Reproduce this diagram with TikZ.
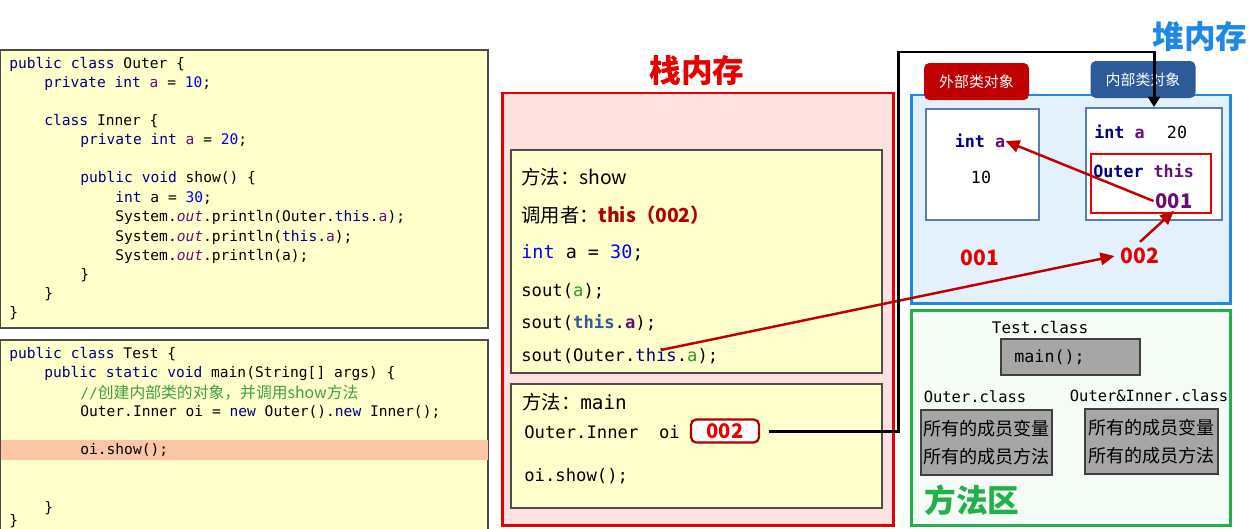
\documentclass[tikz,border=0pt]{standalone}
\usepackage{fontspec}
\setmainfont{Noto Sans CJK SC}
\setmonofont{DejaVu Sans Mono}
\usetikzlibrary{arrows.meta}

\definecolor{codebg}{HTML}{FFFFCC}
\definecolor{hlband}{HTML}{FAC6A6}
\definecolor{kwnavy}{HTML}{000080}
\definecolor{fldpurple}{HTML}{660E7A}
\definecolor{numblue}{HTML}{0000FF}
\definecolor{cmtgreen}{HTML}{3F9F3F}
\definecolor{stackbg}{HTML}{FFE1E1}
\definecolor{stackred}{HTML}{E60000}
\definecolor{darkred}{HTML}{B00000}
\definecolor{heapbg}{HTML}{E3F1FD}
\definecolor{heapblue}{HTML}{1E88E5}
\definecolor{objblue}{HTML}{5B7EB4}
\definecolor{tagred}{HTML}{C00000}
\definecolor{tagblue}{HTML}{2D5B9A}
\definecolor{arrowred}{HTML}{C00000}
\definecolor{addrred}{HTML}{E60000}
\definecolor{methgreen}{HTML}{22B04A}
\definecolor{methbg}{HTML}{F5FBF5}
\definecolor{boxgray}{HTML}{A6A6A6}
\definecolor{thisblue}{HTML}{2E5C9A}
\definecolor{localgreen}{HTML}{2E9A2E}

\newcommand\kw[1]{\textcolor{kwnavy}{#1}}
\newcommand\fd[1]{\textcolor{fldpurple}{#1}}
\newcommand\nm[1]{\textcolor{numblue}{#1}}
\newcommand\zh[1]{{\rmfamily #1}}

\begin{document}
\begin{tikzpicture}[x=0.02cm, y=-0.02cm,
    code/.style={anchor=west, inner sep=0pt, font=\ttfamily\fontsize{8.3}{10}\selectfont},
    stk/.style={anchor=west, inner sep=0pt, font=\fontsize{11}{13}\selectfont},
    stkmono/.style={anchor=west, inner sep=0pt, font=\ttfamily\fontsize{9.8}{12}\selectfont},
    title/.style={font=\bfseries\fontsize{18}{20}\selectfont},
    addr/.style={font=\bfseries\fontsize{12}{14}\selectfont, text=addrred},
    objbox/.style={draw=objblue, line width=1.1pt, fill=white},
    tag/.style={rounded corners=3pt, text=white, font=\fontsize{8.5}{10}\selectfont,
        minimum width=2.1cm, minimum height=0.74cm},
    heapmono/.style={font=\ttfamily\bfseries\fontsize{9.5}{11}\selectfont, inner sep=0pt},
    graybox/.style={draw=black!75, line width=0.8pt, fill=boxgray},
    redarrow/.style={draw=arrowred, line width=1.4pt, -{Triangle[length=8pt,width=7pt]}},
]
\useasboundingbox (0,0) rectangle (1250,528);

% Outer source
\draw[fill=codebg, draw=black!70, line width=0.8pt] (0.5,50) rectangle (488,328);
\node[code] (o1) at (9,64) {\kw{public class} Outer \{};
\node[code] (o2) at (44,83) {\kw{private int} \fd{a} = \nm{10};};
\node[code] (o3) at (44,121) {\kw{class} Inner \{};
\node[code] (o4) at (80,140) {\kw{private int} \fd{a} = \nm{20};};
\node[code] (o5) at (80,178) {\kw{public void} show() \{};
\node[code] (o6) at (115,198) {\kw{int} a = \nm{30};};
\node[code] (o7) at (115,217) {System.\fd{\itshape out}.println(Outer.\kw{this}.\fd{a});};
\node[code] (o8) at (115,237) {System.\fd{\itshape out}.println(\kw{this}.\fd{a});};
\node[code] (o9) at (115,256) {System.\fd{\itshape out}.println(a);};
\node[code] (o10) at (80,275) {\}};
\node[code] (o11) at (44,294) {\}};
\node[code] (o12) at (9,313) {\}};

% Test source
\draw[fill=codebg, draw=black!70, line width=0.8pt] (0.5,340) rectangle (488,560);
\fill[hlband] (1,440) rectangle (487.5,460);
\node[code] (t1) at (9,354) {\kw{public class} Test \{};
\node[code] (t2) at (44,373) {\kw{public static void} main(String[] args) \{};
\node[code] (t3) at (80,393) {\textcolor{cmtgreen}{//\zh{\fontsize{9}{10}\selectfont 创建内部类的对象，并调用show方法}}};
\node[code] (t4) at (80,412) {Outer.Inner oi = \kw{new} Outer().\kw{new} Inner();};
\node[code] (t5) at (80,450) {oi.show();};
\node[code] (t6) at (44,508) {\}};
\node[code] (t7) at (9,521) {\}};

% stack
\node[title, text=stackred] (stacktitle) at (697,70) {栈内存};
\draw[fill=stackbg, draw=stackred, line width=1.7pt] (502,93) rectangle (893,525);
\draw[fill=codebg, draw=black!70, line width=0.8pt] (511,150) rectangle (882,373);
\node[stk] (s1) at (521,177) {方法：show};
\node[stk] (s2) at (521,215) {调用者：\textcolor{darkred}{\bfseries this（002）}};
\node[stkmono, font=\ttfamily\fontsize{10.5}{12}\selectfont] (s3) at (521,253) {\textcolor{numblue}{int} a = \nm{30};};
\node[stkmono] (s4) at (521,291) {sout(\textcolor{localgreen}{a});};
\node[stkmono] (s5) at (521,323) {sout(\textcolor{thisblue}{\bfseries this}.\fd{\bfseries a});};
\node[stkmono] (s6) at (521,356) {sout(Outer.\kw{this}.\textcolor{localgreen}{a});};
\coordinate (thisref) at (661,350);

\draw[fill=codebg, draw=black!70, line width=0.8pt] (511,384) rectangle (882,508);
\node[stk] (m1) at (522,402) {方法：\texttt{main}};
\node[stkmono] (m2) at (524,432) {Outer.Inner~~oi};
\node[draw=darkred, line width=1.3pt, rounded corners=3pt, fill=white, text=stackred,
    font=\bfseries\fontsize{11.5}{13}\selectfont, minimum width=1.36cm, minimum height=0.46cm,
    inner sep=0pt] (oiref) at (725,431) {002};
\node[stkmono] (m3) at (524,476) {oi.show();};

% heap
\node[title, text=heapblue] (heaptitle) at (1200,36) {堆内存};
\draw[fill=heapbg, draw=heapblue, line width=1.7pt] (911,95) rectangle (1230,303);
\node[objbox, minimum width=2.26cm, minimum height=2.22cm] (outerobj) at (982.5,164.5) {};
\node[objbox, minimum width=2.72cm, minimum height=2.24cm] (innerobj) at (1154,164) {};
\node[tag, fill=tagred] (outertag) at (976.5,81.5) {外部类对象};
\node[tag, fill=tagblue] (innertag) at (1143,79.5) {内部类对象};

\node[heapmono] (outerfield) at (980,141) {\textcolor{kwnavy}{int} \fd{a}};
\node[heapmono, font=\ttfamily\fontsize{9.5}{11}\selectfont] (outerval) at (981,177) {10};
\node[heapmono, anchor=west] (innerfield) at (1094,132) {\textcolor{kwnavy}{int} \fd{a}};
\node[heapmono, font=\ttfamily\fontsize{9.5}{11}\selectfont] (innerval) at (1177,132) {20};
\node[draw=stackred, line width=1.1pt, minimum width=2.4cm, minimum height=1.18cm] (thisbox) at (1151,183.5) {};
\node[heapmono, anchor=west] (thisfield) at (1093,171) {\textcolor{kwnavy}{Outer} \fd{this}};
\node[font=\bfseries\fontsize{11.5}{14}\selectfont, text=fldpurple, inner sep=1pt] (ptr001) at (1174,201) {001};

\node[addr] (addrouter) at (980,258) {001};
\node[addr] (addrinner) at (1140,256) {002};

% reference arrows
\draw[redarrow] (ptr001.west) -- (outerfield.east);
\draw[redarrow] (addrinner.north) -- (ptr001.south);
\draw[redarrow] (thisref) -- (addrinner.west);
\draw[line width=1.7pt, -{Triangle[length=6pt,width=7pt]}, shorten <=0.18cm]
    (oiref.east) -| (898,52) -| (innerobj.north);

% method area
\draw[fill=methbg, draw=methgreen, line width=1.7pt] (911,310) rectangle (1230,525);
\node[font=\ttfamily\fontsize{9.1}{11}\selectfont] (testcls) at (1040,327) {Test.class};
\node[graybox, minimum width=2.78cm, minimum height=0.72cm] (mainbox) at (1070.5,357) {};
\node[anchor=west, inner sep=0pt, font=\ttfamily\fontsize{9.5}{11}\selectfont] (maintxt) at (1014,357) {main();};
\node[font=\ttfamily\fontsize{8.8}{11}\selectfont] (outercls) at (975,397) {Outer.class};
\node[font=\ttfamily\fontsize{8.8}{11}\selectfont] (innercls) at (1149,396) {Outer\&Inner.class};
\node[graybox, minimum width=2.62cm, minimum height=1.3cm, align=center, inner sep=0pt,
    font=\fontsize{10.3}{16}\selectfont] (outermeth) at (986.5,442.5) {所有的成员变量\\所有的成员方法};
\node[graybox, minimum width=2.66cm, minimum height=1.3cm, align=center, inner sep=0pt,
    font=\fontsize{10.3}{16}\selectfont] (innermeth) at (1151.5,441.5) {所有的成员变量\\所有的成员方法};
\node[title, text=methgreen] (methtitle) at (972,500) {方法区};
\end{tikzpicture}
\end{document}
